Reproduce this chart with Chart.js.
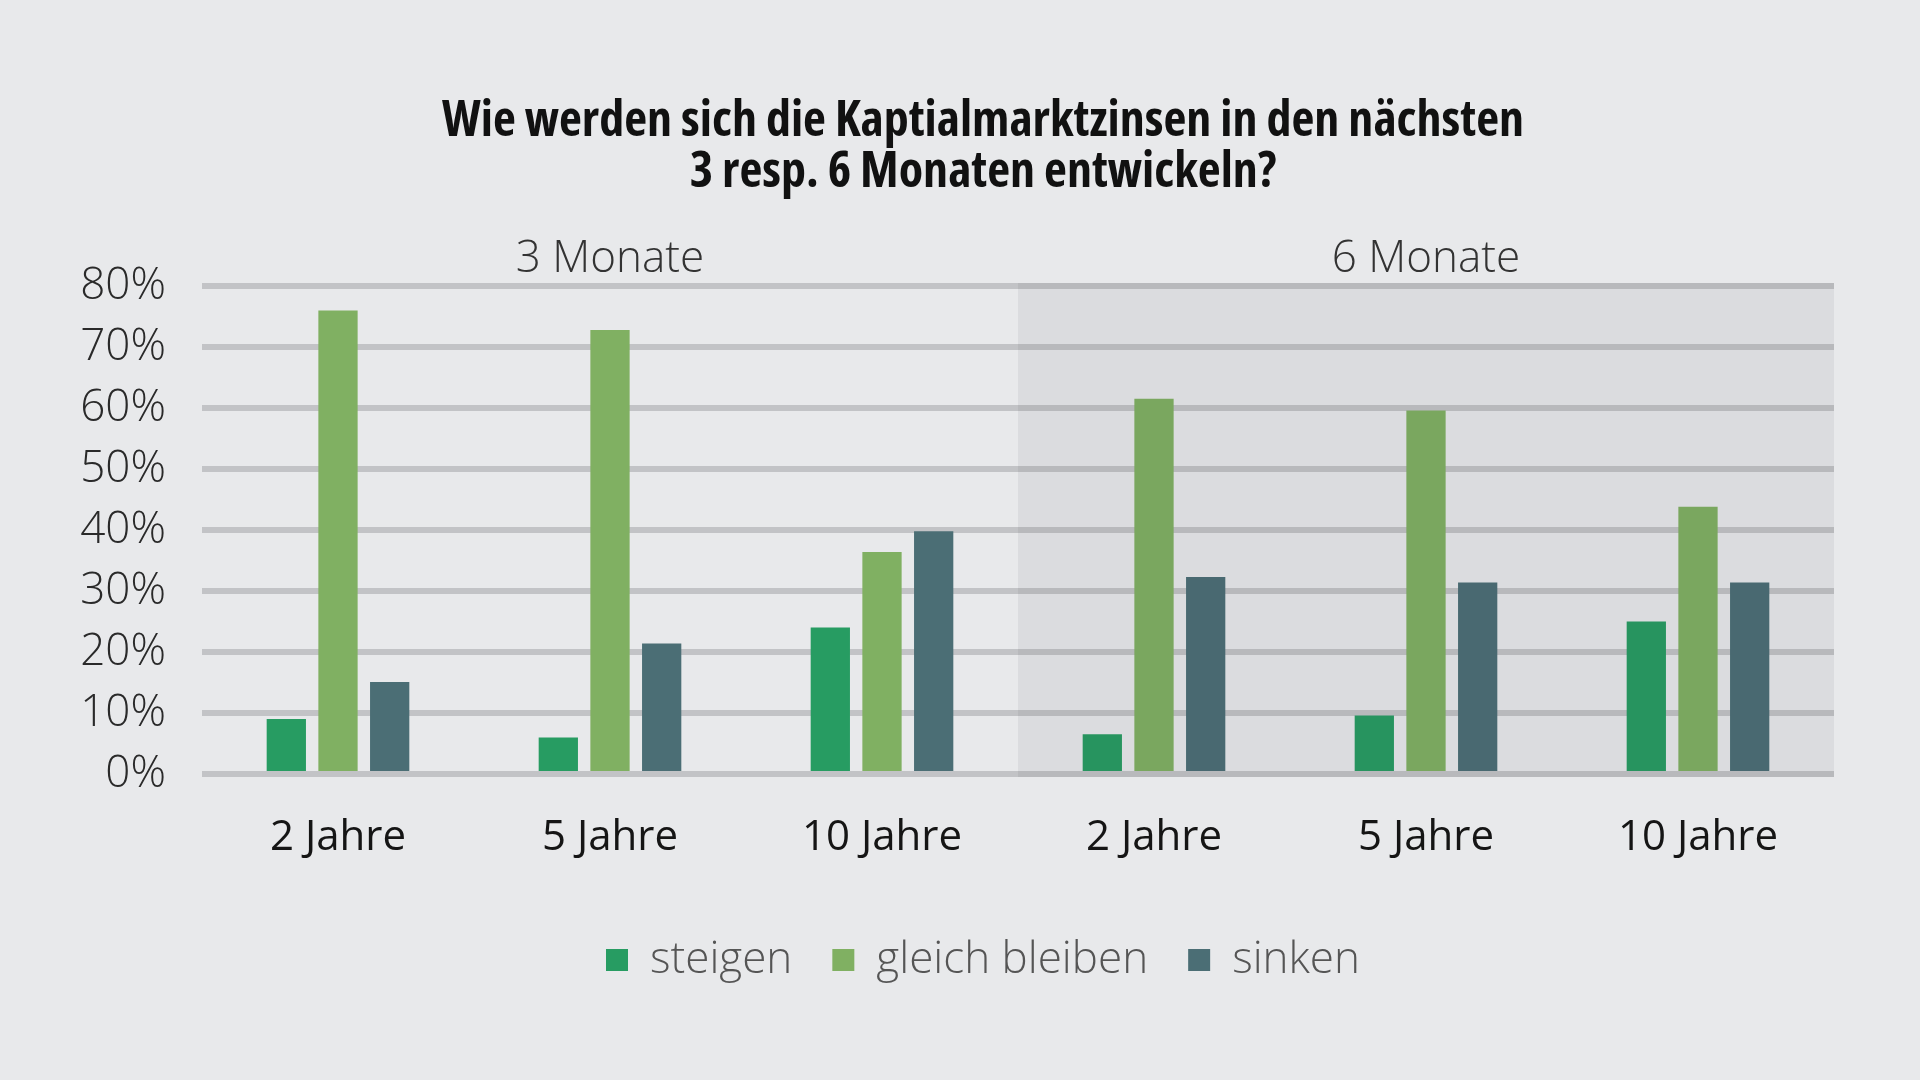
<!DOCTYPE html>
<html lang="de">
<head>
<meta charset="utf-8">
<title>Kapitalmarktzinsen</title>
<script src="https://cdn.jsdelivr.net/npm/chart.js@4.4.1/dist/chart.umd.min.js"></script>
<style>
  html, body { margin: 0; padding: 0; background: #e8e9eb; }
  #wrap { width: 1920px; height: 1080px; }
</style>
</head>
<body>
<div id="wrap"><canvas id="zinsChart" width="1920" height="1080"></canvas></div>
<script>
// Data
const periods = ['3 Monate', '6 Monate'];
const categories = ['2 Jahre', '5 Jahre', '10 Jahre', '2 Jahre', '5 Jahre', '10 Jahre'];
const steigen = [9, 6, 24, 6.5, 9.6, 25];
const gleichBleiben = [76, 72.8, 36.4, 61.5, 59.6, 43.8];
const sinken = [15.1, 21.4, 39.8, 32.3, 31.4, 31.4];
const yTicks = [0, 10, 20, 30, 40, 50, 60, 70, 80];

const FONT = "'Open Sans', 'Noto Sans', sans-serif";

// Shade the second half (6 Monate) of the plot area
const periodShade = {
  id: 'periodShade',
  afterDatasetsDraw(chart) {
    const { ctx, chartArea, scales } = chart;
    const x = scales.x;
    const split = (x.getPixelForTick(2) + x.getPixelForTick(3)) / 2;
    ctx.save();
    ctx.fillStyle = 'rgba(40, 45, 65, 0.065)';
    ctx.fillRect(split, chartArea.top - 3, chartArea.right - split, chartArea.bottom - chartArea.top + 6);
    ctx.restore();
  }
};

const ctx = document.getElementById('zinsChart');
new Chart(ctx, {
  type: 'bar',
  data: {
    labels: categories,
    datasets: [
      { label: 'steigen', data: steigen, backgroundColor: '#279c62' },
      { label: 'gleich bleiben', data: gleichBleiben, backgroundColor: '#80b062' },
      { label: 'sinken', data: sinken, backgroundColor: '#4b6e75' }
    ]
  },
  options: {
    responsive: false,
    devicePixelRatio: 1,
    animation: false,
    categoryPercentage: 0.57,
    barPercentage: 0.76,
    layout: { padding: { left: 46, right: 0, top: 0, bottom: 88 } },
    plugins: {
      title: {
        display: true,
        text: ['Wie werden sich die Kaptialmarktzinsen in den nächsten', '3 resp. 6 Monaten entwickeln?'],
        color: '#111',
        font: { family: FONT, size: 50, weight: '700 condensed', lineHeight: 1.02 },
        padding: { top: 96, bottom: 0 }
      },
      legend: {
        position: 'bottom',
        labels: {
          color: '#555',
          font: { family: FONT, size: 44, weight: '300' },
          boxWidth: 22,
          boxHeight: 22,
          padding: 40,
          useBorderRadius: false
        }
      },
      tooltip: { enabled: false }
    },
    scales: {
      x: {
        position: 'bottom',
        grid: { display: false, drawTicks: false },
        border: { display: false },
        ticks: {
          color: '#151515',
          font: { family: FONT, size: 42, weight: '500' },
          padding: 39
        },
        afterFit(scale) { scale.height = 124; }
      },
      x2: {
        type: 'category',
        position: 'top',
        labels: periods,
        grid: { display: false, drawTicks: false },
        border: { display: false },
        ticks: {
          color: '#333',
          font: { family: FONT, size: 44, weight: '300' },
          padding: 0
        },
        afterFit(scale) { scale.height = 88; }
      },
      y: {
        min: 0,
        max: 80,
        afterBuildTicks(scale) { scale.ticks = yTicks.map(v => ({ value: v })); },
        grid: { color: '#c2c3c6', lineWidth: 6, drawTicks: false },
        border: { display: false },
        ticks: {
          color: '#2a2a2a',
          font: { family: FONT, size: 44, weight: '300' },
          padding: 36,
          callback: v => v + '%'
        },
        afterFit(scale) { scale.width = 156; }
      },
      // empty right-hand axis, only reserves the margin on the right
      y2: {
        position: 'right',
        min: 0,
        max: 80,
        grid: { display: false, drawTicks: false },
        border: { display: false },
        ticks: { display: false },
        afterFit(scale) { scale.width = 86; }
      }
    }
  },
  plugins: [periodShade]
});
</script>
</body>
</html>
